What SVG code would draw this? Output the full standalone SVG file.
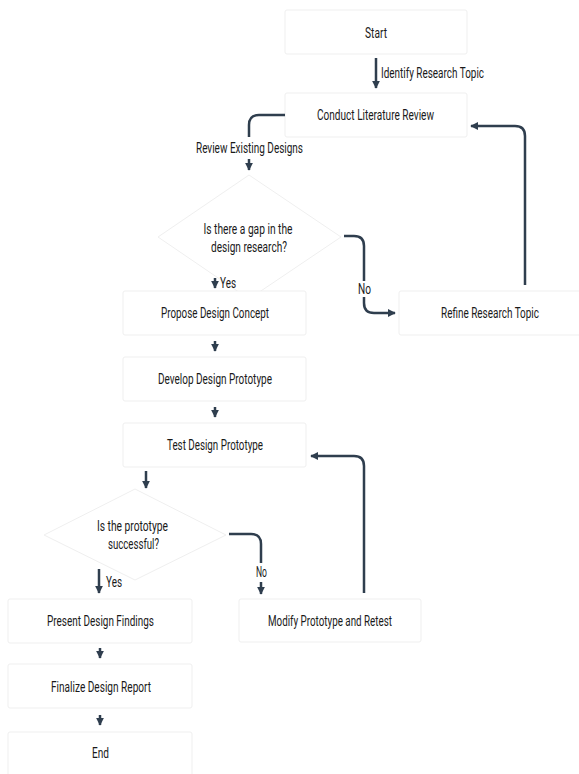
<svg xmlns="http://www.w3.org/2000/svg" width="579" height="774" viewBox="0 0 579 774">
<style>
.box{fill:#ffffff;stroke:#efefef;stroke-width:1}
.t{font-family:Roboto,"Liberation Sans",sans-serif;font-size:14px;font-weight:400;fill:#1a1a1a;text-anchor:middle;dominant-baseline:central}
.lt{font-family:Roboto,"Liberation Sans",sans-serif;font-size:14px;font-weight:400;fill:#1a1a1a;dominant-baseline:central}
.c{fill:none;stroke:#2f3e4e;stroke-width:2.5}
</style>
<defs>
<marker id="ah" markerUnits="userSpaceOnUse" markerWidth="8" markerHeight="8" viewBox="0 0 10 10" refX="9" refY="5" orient="auto">
<path d="M0,0 L10,5 L0,10 z" fill="#2f3e4e"/>
</marker>
</defs>
<rect width="579" height="774" fill="#ffffff"/>
<g id="nodes">
<g id="start"><rect class="box" x="285" y="10" width="182" height="44" rx="2"/><text class="t" x="376" y="33" textLength="22" lengthAdjust="spacingAndGlyphs">Start</text></g>
<g id="conduct"><rect class="box" x="285" y="93" width="182" height="44" rx="2"/><text class="t" x="375.5" y="115" textLength="117" lengthAdjust="spacingAndGlyphs">Conduct Literature Review</text></g>
<g id="gap"><polygon class="box" points="249,175 341,237 249,299 158,237"/><text class="t" x="248" y="229" textLength="89" lengthAdjust="spacingAndGlyphs">Is there a gap in the</text><text class="t" x="249" y="247" textLength="76" lengthAdjust="spacingAndGlyphs">design research?</text></g>
<g id="refine"><rect class="box" x="399" y="291" width="182" height="44" rx="2"/><text class="t" x="490" y="313" textLength="98" lengthAdjust="spacingAndGlyphs">Refine Research Topic</text></g>
<g id="propose"><rect class="box" x="123" y="291" width="183" height="44" rx="2"/><text class="t" x="215" y="313" textLength="108" lengthAdjust="spacingAndGlyphs">Propose Design Concept</text></g>
<g id="develop"><rect class="box" x="123" y="357" width="183" height="44" rx="2"/><text class="t" x="215" y="379" textLength="114" lengthAdjust="spacingAndGlyphs">Develop Design Prototype</text></g>
<g id="test"><rect class="box" x="123" y="423" width="183" height="44" rx="2"/><text class="t" x="215" y="445" textLength="96" lengthAdjust="spacingAndGlyphs">Test Design Prototype</text></g>
<g id="success"><polygon class="box" points="135,489 226,535 135,580 44,535"/><text class="t" x="132.5" y="526" textLength="71" lengthAdjust="spacingAndGlyphs">Is the prototype</text><text class="t" x="133.5" y="544" textLength="51" lengthAdjust="spacingAndGlyphs">successful?</text></g>
<g id="present"><rect class="box" x="8" y="599" width="184" height="44" rx="2"/><text class="t" x="100.5" y="621" textLength="107" lengthAdjust="spacingAndGlyphs">Present Design Findings</text></g>
<g id="modify"><rect class="box" x="239" y="599" width="182" height="43" rx="2"/><text class="t" x="330" y="621" textLength="124" lengthAdjust="spacingAndGlyphs">Modify Prototype and Retest</text></g>
<g id="finalize"><rect class="box" x="8" y="664" width="184" height="44" rx="2"/><text class="t" x="101" y="687" textLength="100" lengthAdjust="spacingAndGlyphs">Finalize Design Report</text></g>
<g id="end"><rect class="box" x="8" y="732" width="184" height="44" rx="2"/><text class="t" x="100.5" y="753" textLength="17" lengthAdjust="spacingAndGlyphs">End</text></g>
</g>
<g id="connectors">
<path class="c" d="M376,58 V88" marker-end="url(#ah)"/>
<path class="c" d="M285,115 H259 Q249,115 249,125 V137"/>
<path class="c" d="M249,159 V170" marker-end="url(#ah)"/>
<path class="c" d="M215,278 V288" marker-end="url(#ah)"/>
<path class="c" d="M344,236 H354 Q364,236 364,246 V281"/>
<path class="c" d="M364,297 V303 Q364,313 374,313 H395" marker-end="url(#ah)"/>
<path class="c" d="M215,341 V351" marker-end="url(#ah)"/>
<path class="c" d="M215,407 V417" marker-end="url(#ah)"/>
<path class="c" d="M146,471 V488" marker-end="url(#ah)"/>
<path class="c" d="M99,569 V593" marker-end="url(#ah)"/>
<path class="c" d="M229,534 H251 Q261,534 261,544 V563"/>
<path class="c" d="M261,582 V594" marker-end="url(#ah)"/>
<path class="c" d="M364,593 V466 Q364,456 354,456 H311" marker-end="url(#ah)"/>
<path class="c" d="M525,285 V136 Q525,126 515,126 H471" marker-end="url(#ah)"/>
<path class="c" d="M100,648 V658" marker-end="url(#ah)"/>
<path class="c" d="M100,715 V725" marker-end="url(#ah)"/>
<text class="lt" x="381" y="73" textLength="103" lengthAdjust="spacingAndGlyphs">Identify Research Topic</text>
<text class="t" x="249.5" y="148" textLength="107" lengthAdjust="spacingAndGlyphs">Review Existing Designs</text>
<text class="lt" x="220" y="283" textLength="16" lengthAdjust="spacingAndGlyphs">Yes</text>
<text class="t" x="364.5" y="289" textLength="13" lengthAdjust="spacingAndGlyphs">No</text>
<text class="lt" x="106" y="582" textLength="16" lengthAdjust="spacingAndGlyphs">Yes</text>
<text class="t" x="261.5" y="572" textLength="11" lengthAdjust="spacingAndGlyphs">No</text>
</g>
</svg>
